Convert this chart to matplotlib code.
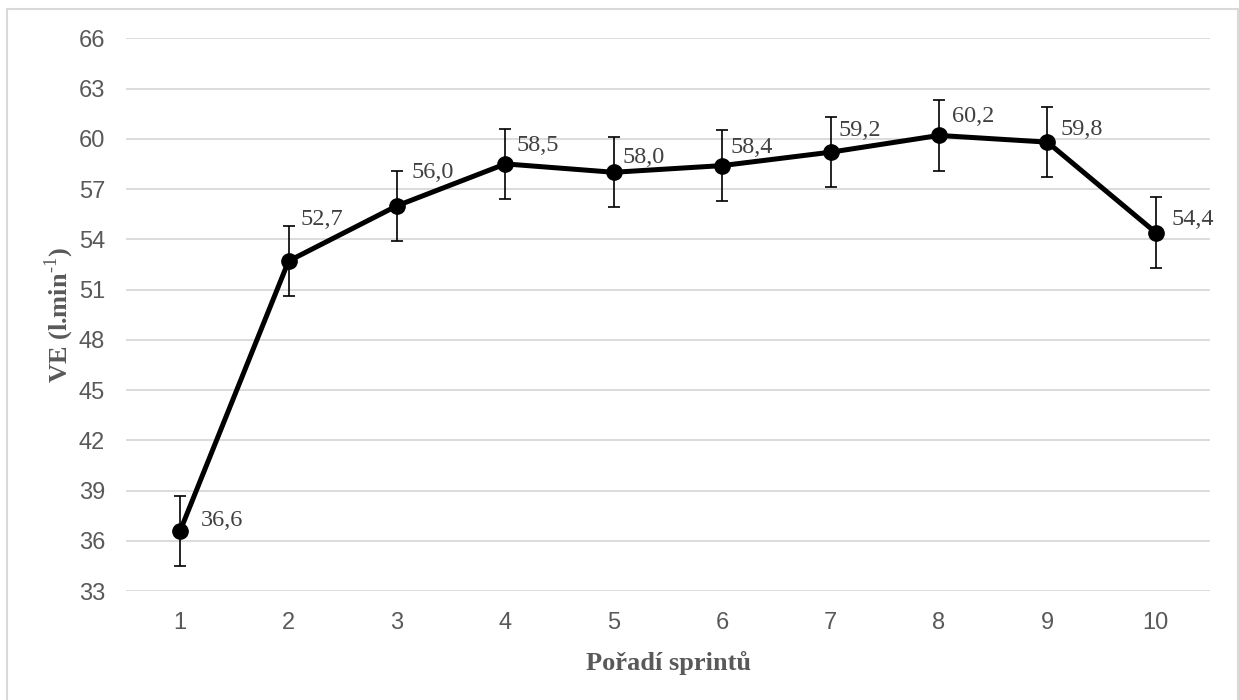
import matplotlib
matplotlib.use("Agg")
import matplotlib.pyplot as plt
from matplotlib.patches import Rectangle

plt.rcParams["mathtext.fontset"] = "custom"
plt.rcParams["mathtext.bf"] = "Liberation Serif:bold"
plt.rcParams["mathtext.rm"] = "Liberation Serif"

sprints = [1, 2, 3, 4, 5, 6, 7, 8, 9, 10]
ve = [36.6, 52.7, 56.0, 58.5, 58.0, 58.4, 59.2, 60.2, 59.8, 54.4]
err = [2.1, 2.1, 2.1, 2.1, 2.1, 2.1, 2.1, 2.1, 2.1, 2.1]
yticks = [33, 36, 39, 42, 45, 48, 51, 54, 57, 60, 63, 66]
xlabel = "Pořadí sprintů"
ylabel = r"VE (l.min$^{\text{-1}}$)"

# label placement (pixel offsets of the text baseline-left from each point)
label_dx = [21, 12, 14, 11, 9, 8, 8, 13, 13, 16]
label_dy = [5, 36, 28, 13, 9, 13, 16, 13, 7, 8]

W, H = 1239, 700
fig = plt.figure(figsize=(W / 100, H / 100), dpi=100)

# chart border
fig.patches.append(Rectangle((7 / W, -0.02), (1238 - 7) / W, (H - 9) / H + 0.02,
                             transform=fig.transFigure, fill=False,
                             edgecolor="#d9d9d9", linewidth=1.5))

ax = fig.add_axes([126 / W, 1 - 591 / H, (1210 - 126) / W, (591 - 38.3) / H])
ax.set_xlim(0.5, 10.5)
ax.set_ylim(33, 66)
ax.set_yticks(yticks)
ax.set_xticks(sprints)
ax.set_xticklabels([str(s) for s in sprints])
ax.grid(axis="y", color="#d9d9d9", linewidth=1.3)
ax.set_axisbelow(True)
for s in ax.spines.values():
    s.set_visible(False)
ax.tick_params(length=0, labelsize=17, labelcolor="#595959")
ax.tick_params(axis="y", pad=15)
ax.tick_params(axis="x", pad=15)
for lab in ax.get_xticklabels() + ax.get_yticklabels():
    lab.set_fontfamily("Liberation Sans")

ax.errorbar(sprints, ve, yerr=err, fmt="none", ecolor="black",
            elinewidth=1.2, capsize=4.4, capthick=1.2, zorder=2)
ax.plot(sprints, ve, color="black", linewidth=3.6, marker="o",
        markersize=11, zorder=3)

for x, y, dx, dy in zip(sprints, ve, label_dx, label_dy):
    ax.annotate(f"{y:.1f}".replace(".", ","), (x, y), xytext=(dx, dy),
                textcoords="offset pixels", ha="left", va="baseline",
                fontsize=17.5, fontfamily="Liberation Serif", color="#404040")

ax.set_xlabel(xlabel, fontsize=19, fontweight="bold",
              fontfamily="Liberation Serif", color="#595959", labelpad=12)
ax.set_ylabel(ylabel, fontsize=19, fontweight="bold",
              fontfamily="Liberation Serif", color="#595959", labelpad=2)

fig.savefig("out.png", dpi=100)
